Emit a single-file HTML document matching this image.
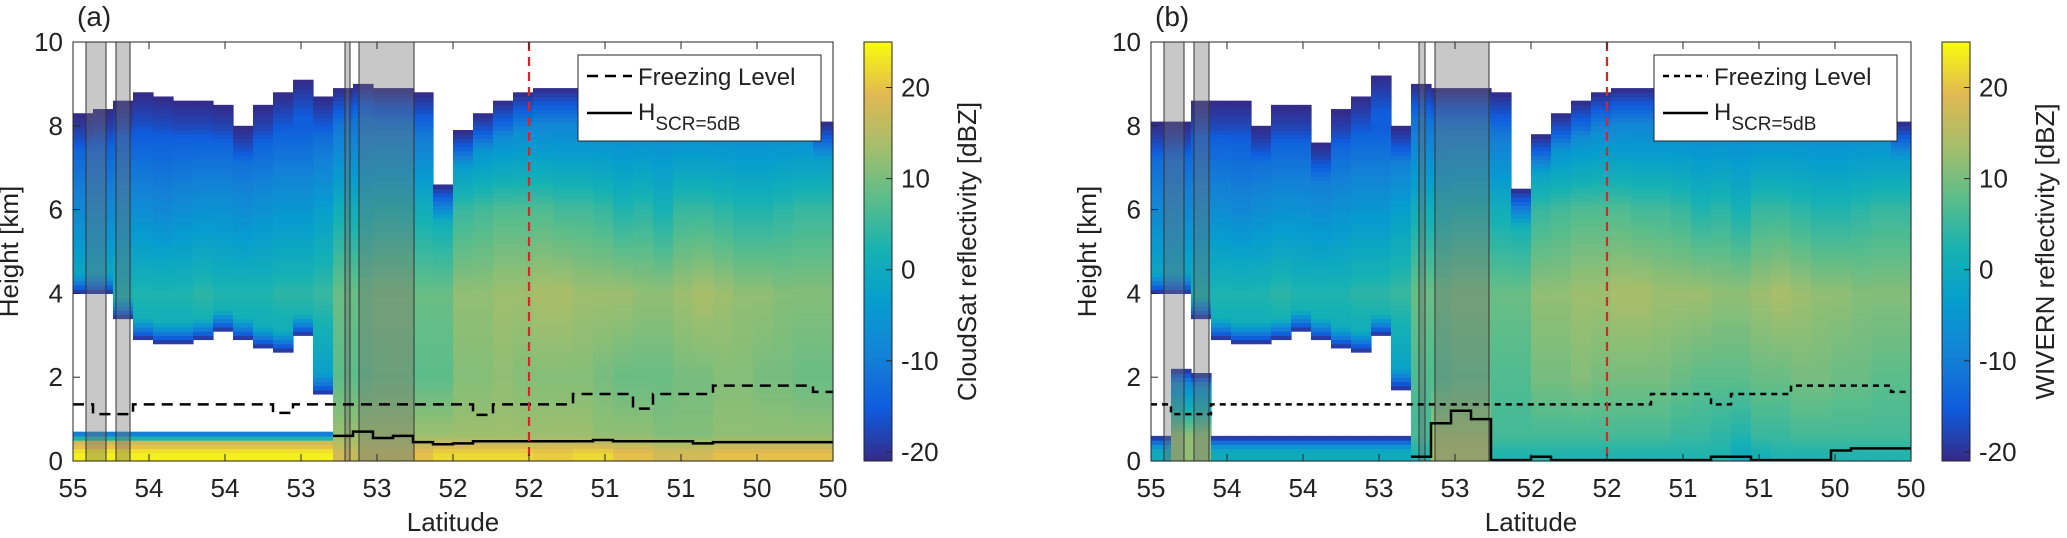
<!DOCTYPE html>
<html><head><meta charset="utf-8">
<style>
html,body{margin:0;padding:0;background:#fff;}
svg{display:block;font-family:"Liberation Sans",Arial,sans-serif;}
</style></head>
<body>
<svg id="fig" width="2067" height="538" viewBox="0 0 2067 538" xmlns="http://www.w3.org/2000/svg">
</svg>
<script>
// ---------- data ----------
const xTickLabels = ['55','54','54','53','53','52','52','51','51','50','50'];
const yTicks = [0,2,4,6,8,10];
const cbTicks = [-20,-10,0,10,20];
const LEVELS = [0.2,0.6,2,4,6,8];
const shadeA = [[13,33],[43,57],[272,277],[286,341]];
const shadeB = [[13,33],[43,58],[268,274],[284,338]];
const redLineTick = 6;

// cloud top / base / surface-layer top (km) per column (38 columns)
const topA = [8.3,8.4,8.6,8.8,8.7,8.6,8.6,8.5,8.0,8.5,8.8,9.1,8.7,8.9,9.0,8.9,8.9,8.8,6.6,7.9,8.3,8.6,8.8,8.9,8.9,8.9,8.9,8.9,8.8,8.8,8.8,8.8,8.8,8.8,8.7,8.7,8.6,8.1];
const baseA = [4.0,4.0,3.4,2.9,2.8,2.8,2.9,3.1,2.9,2.7,2.6,3.0,1.6,0,0,0,0,0,0,0,0,0,0,0,0,0,0,0,0,0,0,0,0,0,0,0,0,0];
const sfcA = [0.75,0.75,0.75,0.75,0.75,0.75,0.75,0.75,0.75,0.75,0.75,0.75,0.75,0,0,0,0,0,0,0,0,0,0,0,0,0,0,0,0,0,0,0,0,0,0,0,0,0];
const topB = [8.1,8.1,8.6,8.6,8.6,8.0,8.5,8.5,7.6,8.4,8.7,9.2,8.0,9.0,8.9,8.9,8.9,8.8,6.5,7.8,8.3,8.6,8.8,8.9,8.9,8.9,8.9,8.9,8.8,8.8,8.8,8.8,8.8,8.8,8.7,8.7,8.6,8.1];
const baseB = [4.0,4.0,3.4,2.9,2.8,2.8,2.9,3.1,2.9,2.7,2.6,3.0,1.7,0,0,0,0,0,0,0,0,0,0,0,0,0,0,0,0,0,0,0,0,0,0,0,0,0];
const sfcB = [0.6,2.2,2.1,0.6,0.6,0.6,0.6,0.6,0.6,0.6,0.6,0.6,0.6,0,0,0,0,0,0,0,0,0,0,0,0,0,0,0,0,0,0,0,0,0,0,0,0,0];

// reflectivity (dBZ) at LEVELS for each column
const A_L02 = [24,24,24,24,24,24,24,24,24,24,24,24,24,18,16,16,16,20,22,22,22,22,22,21,21,22,22,20,20,18,18,18,20,20,20,20,20,20];
const A_L06 = [13,13,13,13,13,13,13,13,13,13,13,13,13,13,13,13,13,13,13,13,13,13,13,13,13,13,12,12,12,11,11,11,12,12,12,12,12,12];
const A_L2  = [-3,-3,-3,-3,-3,-3,-3,-3,-3,-3,-3,-3,-3,8,8,9,9,8,8,11,11,12,11,11,11,11,10,9,9,9,10,10,11,11,10,10,9,9];
const A_L4  = [1,1,2,3,3,3,4,3,3,3,4,4,5,9,9,10,10,9,9,12,12,13,13,14,14,13,13,13,12,12,13,14,13,12,12,11,11,11];
const A_L6  = [-8,-8,-7,-7,-8,-7,-6,-6,-7,-6,-5,-5,-3,1,1,2,2,1,0,5,6,7,7,7,6,6,5,3,4,2,5,5,4,3,3,4,5,5];
const A_L8  = [-16,-16,-16,-16,-16,-16,-16,-16,-16,-16,-15,-15,-14,-11,-11,-11,-11,-12,-12,-11,-10,-9,-8,-8,-8,-8,-8,-8,-8,-8,-8,-8,-8,-8,-8,-8,-8,-8];
const B_L02 = [0,12,12,0,0,0,0,0,0,0,0,0,0,3,14,14,14,3,3,3,3,3,3,3,3,3,3,3,3,0,2,3,3,3,3,3,3,3];
const B_L06 = [-6,12,12,-6,-6,-6,-6,-6,-6,-6,-6,-6,-6,6,13,13,13,6,6,6,6,6,6,6,6,6,5,5,4,3,5,5,6,6,6,6,6,6];
const B_L2  = [-3,-10,-10,-3,-3,-3,-3,-3,-3,-3,-3,-3,-3,7,7,8,8,7,7,10,10,11,10,10,10,10,9,8,8,8,9,9,10,10,9,9,8,8];
const B_L4  = [1,1,2,3,3,3,4,3,3,3,4,4,5,9,9,10,10,9,9,12,12,13,13,14,14,13,13,13,12,12,13,14,13,12,12,11,11,11];
const B_L6  = [-8,-8,-7,-7,-8,-7,-6,-6,-7,-6,-5,-5,-3,1,1,2,2,1,0,5,6,7,7,7,6,6,5,3,4,2,5,5,4,3,3,4,5,5];
const B_L8  = [-16,-16,-16,-16,-16,-16,-16,-16,-16,-16,-15,-15,-14,-11,-11,-11,-11,-12,-12,-11,-10,-9,-8,-8,-8,-8,-8,-8,-8,-8,-8,-8,-8,-8,-8,-8,-8,-8];

// lines (km) per column
const freezeA = [1.35,1.12,1.12,1.35,1.35,1.35,1.35,1.35,1.35,1.35,1.15,1.35,1.35,1.35,1.35,1.35,1.35,1.35,1.35,1.35,1.1,1.35,1.35,1.35,1.35,1.6,1.6,1.6,1.25,1.6,1.6,1.6,1.8,1.8,1.8,1.8,1.8,1.65];
const freezeB = [1.35,1.12,1.12,1.35,1.35,1.35,1.35,1.35,1.35,1.35,1.35,1.35,1.35,1.35,1.35,1.35,1.35,1.35,1.35,1.35,1.35,1.35,1.35,1.35,1.35,1.6,1.6,1.6,1.35,1.6,1.6,1.6,1.8,1.8,1.8,1.8,1.8,1.65];
const hscrA = [null,null,null,null,null,null,null,null,null,null,null,null,null,0.6,0.7,0.55,0.6,0.45,0.4,0.42,0.47,0.47,0.47,0.47,0.47,0.47,0.5,0.47,0.47,0.47,0.47,0.42,0.45,0.45,0.45,0.45,0.45,0.45];
const hscrB = [null,null,null,null,null,null,null,null,null,null,null,null,null,0.1,0.9,1.2,1.0,0.02,0.02,0.1,0.02,0.02,0.02,0.02,0.02,0.02,0.02,0.02,0.1,0.1,0.02,0.02,0.02,0.02,0.25,0.3,0.3,0.3];

// ---------- helpers ----------
const NS = 'http://www.w3.org/2000/svg';
const svg = document.getElementById('fig');
const PW = 760, TOP = 42, BOT = 461, NCOL = 38, ZMIN = -21, ZMAX = 25;
function yS(h){ return BOT - h*(BOT-TOP)/10; }
function xS(off, c){ return off + c*PW/NCOL; }
function xTick(off, k){ return off + k*PW/10; }
function cbY(v){ return BOT - (v-ZMIN)/(ZMAX-ZMIN)*(BOT-TOP); }
const PAR = [[53,42,135],[15,92,221],[20,129,214],[7,156,207],[21,177,180],[89,189,140],[165,190,107],[225,185,82],[249,251,14]];
function parula(v){
  let t = (v-ZMIN)/(ZMAX-ZMIN); t = Math.max(0,Math.min(1,t));
  const p = t*(PAR.length-1), i = Math.min(PAR.length-2, Math.floor(p)), f = p-i;
  const c = PAR[i].map((a,k)=>Math.round(a+(PAR[i+1][k]-a)*f));
  return 'rgb('+c.join(',')+')';
}
function el(tag, attrs, parent){
  const e = document.createElementNS(NS, tag);
  for (const k in attrs) e.setAttribute(k, attrs[k]);
  (parent||svg).appendChild(e);
  return e;
}
function interp(prof, h){
  if (h <= LEVELS[0]) return prof[0];
  for (let i=0;i<LEVELS.length-1;i++){
    if (h <= LEVELS[i+1]){ const f=(h-LEVELS[i])/(LEVELS[i+1]-LEVELS[i]); return prof[i]+(prof[i+1]-prof[i])*f; }
  }
  return prof[prof.length-1];
}
function clamp01(x){ return Math.max(0,Math.min(1,x)); }

function panel(cfg){
  const off = cfg.off;
  const g = el('g', {});
  
  
  const hm = el('g', {}, g);
  
  
  const dh = 0.1, cw = PW/NCOL;
  for (let c=0;c<NCOL;c++){
    const prof = cfg.levels.map(a=>a[c]);
    for (let h=0; h<cfg.top[c]-1e-6; h+=dh){
      const hm_ = h+dh/2;
      let v = null;
      if (hm_ < cfg.sfc[c]){
        v = interp(prof, hm_);
        v = -21 + (v+21)*clamp01((cfg.sfc[c]-hm_)/0.3);
      } else if (hm_ >= cfg.base[c]){
        v = interp(prof, hm_);
        v = -21 + (v+21)*clamp01((cfg.top[c]-hm_)/0.9);
        if (cfg.base[c] > 0) v = -21 + (v+21)*clamp01((hm_-cfg.base[c])/0.5);
      }
      if (v === null) continue;
      const r = el('rect', {x:xS(off,c).toFixed(2), y:yS(Math.min(h+dh,cfg.top[c])).toFixed(2), width:(cw+0.6).toFixed(2), height:(yS(h)-yS(Math.min(h+dh,cfg.top[c]))+0.6).toFixed(2), fill:parula(v)}, hm);
      
      
    }
  }
  // shaded regions
  cfg.shade.forEach(s=>{
    const r = el('rect', {x:off+s[0], y:TOP, width:s[1]-s[0], height:BOT-TOP, fill:'rgba(110,110,110,0.38)', stroke:'#333', 'stroke-width':1}, g);
    
    
  });
  // freezing level
  let d=''; cfg.freeze.forEach((v,c)=>{ d += (c===0?'M':'L')+xS(off,c)+','+yS(v)+' L'+xS(off,c+1)+','+yS(v)+' '; });
  const fl = el('path', {d:d, fill:'none', stroke:'#000', 'stroke-width':2.5, 'stroke-dasharray':cfg.dash}, g);
  
  
  // H_SCR
  let d2='', started=false;
  cfg.hscr.forEach((v,c)=>{ if (v===null){started=false;return;} d2 += (started?'L':'M')+xS(off,c)+','+yS(v)+' L'+xS(off,c+1)+','+yS(v)+' '; started=true; });
  const hl = el('path', {d:d2, fill:'none', stroke:'#000', 'stroke-width':2.5}, g);
  
  
  // red dashed line
  const rl = el('line', {x1:xTick(off,redLineTick), x2:xTick(off,redLineTick), y1:TOP, y2:BOT, stroke:'#d62728', 'stroke-width':2.2, 'stroke-dasharray':'9,6'}, g);
  
  
  // axes box
  const box = el('rect', {x:off, y:TOP, width:PW, height:BOT-TOP, fill:'none', stroke:'#262626', 'stroke-width':1}, g);
  
  
  xTickLabels.forEach((lab,k)=>{
    const x = xTick(off,k);
    el('line', {x1:x,x2:x,y1:TOP,y2:TOP+7,stroke:'#262626','stroke-width':1}, g);
    el('line', {x1:x,x2:x,y1:BOT,y2:BOT-7,stroke:'#262626','stroke-width':1}, g);
    const t = el('text', {x:x, y:497, 'font-size':26, 'text-anchor':'middle', fill:'#222'}, g);
    t.textContent = lab;
    
    
  });
  yTicks.forEach(v=>{
    const y = yS(v);
    el('line', {x1:off,x2:off+7,y1:y,y2:y,stroke:'#262626','stroke-width':1}, g);
    const t = el('text', {x:off-10, y:y+9, 'font-size':26, 'text-anchor':'end', fill:'#222'}, g);
    t.textContent = v;
    
    
  });
  const xt = el('text', {x:off+PW/2, y:531, 'font-size':26, 'text-anchor':'middle', fill:'#222'}, g);
  xt.textContent = 'Latitude';
  
  
  const yt = el('text', {x:0, y:0, 'font-size':26, 'text-anchor':'middle', fill:'#222', transform:'translate('+(off-55)+','+((TOP+BOT)/2)+') rotate(-90)'}, g);
  yt.textContent = 'Height [km]';
  
  
  const pl = el('text', {x:off+4, y:26, 'font-size':28, fill:'#222'}, g);
  pl.textContent = cfg.label;
  
  
  // legend
  const lg = el('g', {}, g);
  
  
  const lx = off + cfg.legX;
  el('rect', {x:lx, y:55, width:243, height:86, fill:'#fff', stroke:'#262626', 'stroke-width':1}, lg);
  el('line', {x1:lx+9, x2:lx+54, y1:76, y2:76, stroke:'#000', 'stroke-width':2.5, 'stroke-dasharray':cfg.dash}, lg);
  const t1 = el('text', {x:lx+60, y:85, 'font-size':24, fill:'#222'}, lg);
  t1.textContent = 'Freezing Level';
  
  
  el('line', {x1:lx+9, x2:lx+54, y1:113, y2:113, stroke:'#000', 'stroke-width':2.5}, lg);
  const t2 = el('text', {x:lx+60, y:120, 'font-size':24, fill:'#222'}, lg);
  t2.innerHTML = 'H<tspan dy="10" font-size="19">SCR=5dB</tspan>';
  
  
  // colorbar
  const cx = off + 791;
  const cb = el('g', {}, g);
  
  
  for (let v=ZMIN; v<ZMAX; v+=0.25){
    el('rect', {x:cx, y:cbY(v+0.25).toFixed(2), width:28, height:(cbY(v)-cbY(v+0.25)+0.5).toFixed(2), fill:parula(v+0.125)}, cb);
  }
  el('rect', {x:cx, y:TOP, width:28, height:BOT-TOP, fill:'none', stroke:'#262626','stroke-width':1}, cb);
  cbTicks.forEach(v=>{
    const y = cbY(v);
    el('line', {x1:cx+22,x2:cx+28,y1:y,y2:y,stroke:'#262626','stroke-width':1}, cb);
    const t = el('text', {x:cx+37, y:y+9, 'font-size':26, fill:'#222'}, cb);
    t.textContent = v;
    
    
  });
  const ct = el('text', {x:0, y:0, 'font-size':26, 'text-anchor':'middle', fill:'#222', transform:'translate('+(cx+112)+','+((TOP+BOT)/2)+') rotate(-90)'}, cb);
  ct.textContent = cfg.cbLabel;
  
  
}

panel({name:'panel-a', off:73, label:'(a)', top:topA, base:baseA, sfc:sfcA,
  levels:[A_L02,A_L06,A_L2,A_L4,A_L6,A_L8], shade:shadeA, freeze:freezeA, hscr:hscrA,
  dash:'11,7', legX:505, cbLabel:'CloudSat reflectivity [dBZ]'});
panel({name:'panel-b', off:1151, label:'(b)', top:topB, base:baseB, sfc:sfcB,
  levels:[B_L02,B_L06,B_L2,B_L4,B_L6,B_L8], shade:shadeB, freeze:freezeB, hscr:hscrB,
  dash:'6,5', legX:503, cbLabel:'WIVERN reflectivity [dBZ]'});
</script>
</body></html>
